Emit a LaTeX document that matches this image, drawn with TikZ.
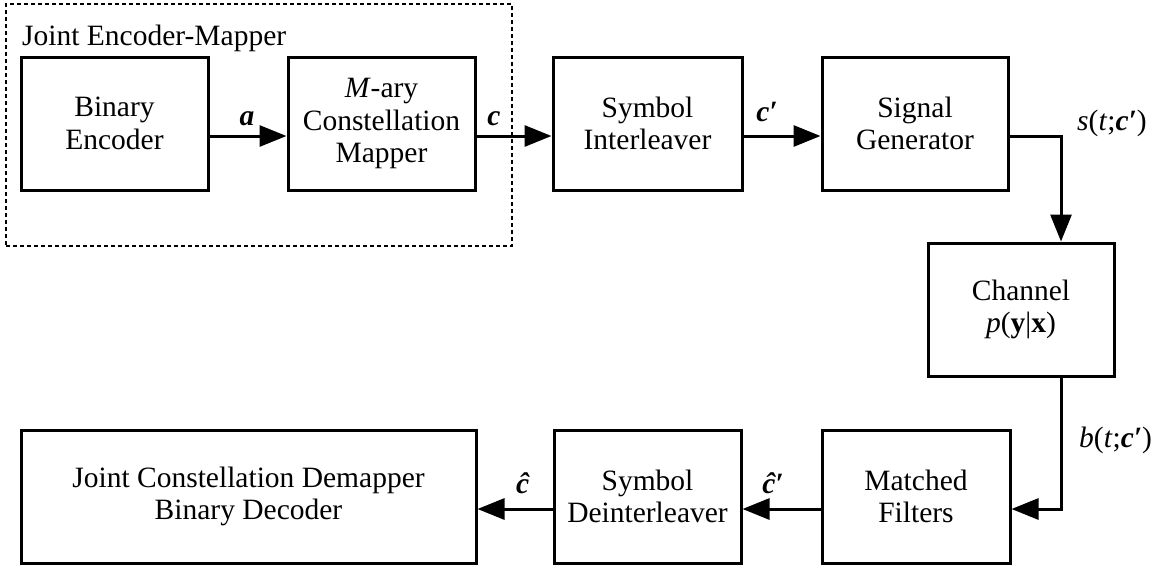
\documentclass[tikz,border=0pt]{standalone}
\usepackage{fontspec}
\setmainfont{Liberation Serif}
\usetikzlibrary{arrows.meta}
\begin{document}
\begin{tikzpicture}[x=1pt,y=-1pt,
  blk/.style={draw, line width=3pt, inner sep=0pt, align=center,
    minimum height=133pt, font=\fontsize{29.5}{32.5}\selectfont},
  lbl/.style={inner sep=0pt, font=\fontsize{29.5}{32.5}\selectfont},
  arr/.style={line width=3pt, -{Triangle[length=27pt,width=21pt]}},
  grpbox/.style={draw, line width=1.3pt, dash pattern=on 4pt off 3pt, inner sep=0pt}]
\useasboundingbox (0,0) rectangle (1158,565);

% encoder group frame
\node[grpbox, minimum width=506pt, minimum height=242pt] (grp) at (259,125) {};
\node[lbl, anchor=base west] (grptitle) at (22,45) {Joint Encoder-Mapper};

% transmitter chain
\node[blk, minimum width=187pt] (enc) at (114.5,123.5) {Binary\\Encoder};
\node[blk, minimum width=187pt] (map) at (381.5,123.5) {\textit{M}-ary\\Constellation\\Mapper};
\node[blk, minimum width=189pt] (ilv) at (647.5,123.5) {Symbol\\Interleaver};
\node[blk, minimum width=186pt] (sg)  at (915,123.5) {Signal\\Generator};

% channel
\node[blk, minimum width=186pt] (ch) at (1021,309.5) {Channel\\\textit{p}(\textbf{y}|\textbf{x})};

% receiver chain
\node[blk, minimum width=188pt] (mf)  at (916,496.5) {Matched\\Filters};
\node[blk, minimum width=187pt] (dil) at (647.5,496.5) {Symbol\\Deinterleaver};
\node[blk, minimum width=455pt] (dec) at (248.5,496.5) {Joint Constellation Demapper\\Binary Decoder};

% routing rows and columns
\coordinate (rowTop) at (0,136);
\coordinate (rowBot) at (0,509);
\coordinate (colR) at (1061,0);

% connectors
\draw[arr] (enc.east |- rowTop) -- (map.west |- rowTop);
\draw[arr] (map.east |- rowTop) -- (ilv.west |- rowTop);
\draw[arr] (ilv.east |- rowTop) -- (sg.west |- rowTop);
\draw[arr] (sg.east |- rowTop) -| (ch.north -| colR);
\draw[arr] (ch.south -| colR) |- (mf.east |- rowBot);
\draw[arr] (mf.west |- rowBot) -- (dil.east |- rowBot);
\draw[arr] (dil.west |- rowBot) -- (dec.east |- rowBot);

% signal labels
\node[lbl, anchor=base] (la) at (247,125) {\textbf{\textit{a}}};
\node[lbl, anchor=base] (lc) at (494,125) {\textbf{\textit{c}}};
\node[lbl, anchor=base] (lcp) at (767,121) {\textbf{\textit{c′}}};
\node[lbl, anchor=base west] (ls) at (1077,130) {\textit{s}(\textit{t};\textbf{\textit{c′}})};
\node[lbl, anchor=base west] (lb) at (1079,447) {\textit{b}(\textit{t};\textbf{\textit{c′}})};
\node[lbl, anchor=base] (lchp) at (773,493) {\textbf{\textit{\^{c}′}}};
\node[lbl, anchor=base] (lch) at (523,493) {\textbf{\textit{\^{c}}}};
\end{tikzpicture}
\end{document}
